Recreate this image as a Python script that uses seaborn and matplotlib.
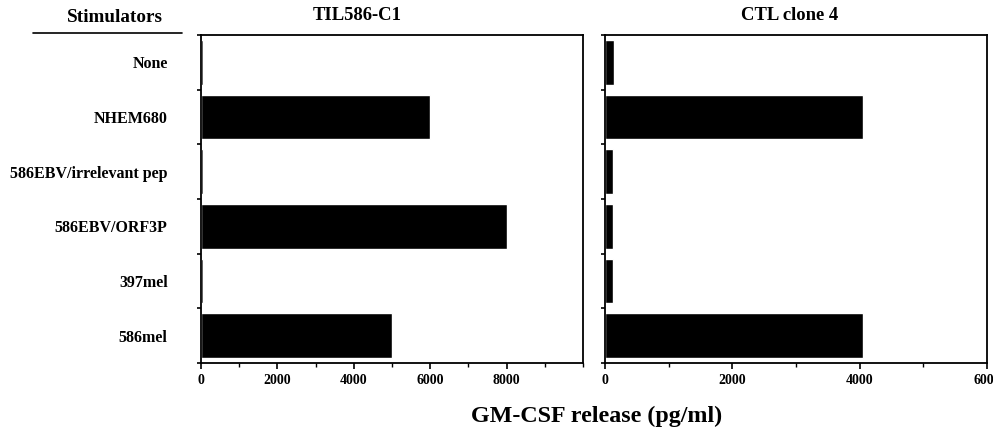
import matplotlib
matplotlib.use("Agg")
import matplotlib.pyplot as plt
import seaborn as sns
import pandas as pd
from matplotlib.lines import Line2D
from matplotlib.ticker import MultipleLocator, FixedLocator

# data (pg/ml)
stimulators = ["None", "NHEM680", "586EBV/irrelevant pep", "586EBV/ORF3P", "397mel", "586mel"]
til586_c1 = [60, 6000, 60, 8000, 60, 5000]
ctl_clone4 = [140, 4050, 130, 130, 120, 4050]

sns.set_style("white")
plt.rcParams["font.family"] = ["Liberation Serif", "DejaVu Serif"]
plt.rcParams["font.weight"] = "bold"
plt.rcParams["text.color"] = "black"
plt.rcParams["xtick.color"] = "black"
plt.rcParams["ytick.color"] = "black"

fig = plt.figure(figsize=(9.93, 4.36), dpi=100)
ax1 = fig.add_axes([0.2024, 0.1674, 0.3847, 0.7523])
ax2 = fig.add_axes([0.6093, 0.1674, 0.3847, 0.7523])

panels = [
    (ax1, til586_c1, 10000),
    (ax2, ctl_clone4, 6000),
]

for ax, vals, xmax in panels:
    df = pd.DataFrame({"stim": stimulators, "val": vals})
    sns.barplot(data=df, x="val", y="stim", orient="h", color="black",
                width=0.82, ax=ax, saturation=1)
    ax.set_xlim(0, xmax)
    ax.set_ylim(5.5, -0.5)
    ax.set_xlabel("")
    ax.set_ylabel("")
    for sp in ax.spines.values():
        sp.set_visible(True)
        sp.set_color("black")
        sp.set_linewidth(1.3)
    # x ticks
    ax.xaxis.set_minor_locator(MultipleLocator(1000))
    ax.tick_params(axis="x", which="major", direction="out", length=4, width=1.2,
                   bottom=True, labelsize=10, pad=4)
    ax.tick_params(axis="x", which="minor", direction="out", length=3, width=1.0, bottom=True)
    ticks = [t for t in range(0, xmax, 2000)] + ([xmax] if xmax == 6000 else [])
    ax.set_xticks(ticks)
    ax.set_xticklabels([str(t) for t in ticks])
    # y ticks: marks at category boundaries, labels at centers
    ax.yaxis.set_major_locator(FixedLocator([i - 0.5 for i in range(len(stimulators) + 1)]))
    ax.set_yticklabels([""] * (len(stimulators) + 1))
    ax.tick_params(axis="y", which="major", direction="out", length=3, width=1.2, left=True)
    ax.yaxis.set_minor_locator(FixedLocator(range(len(stimulators))))
    ax.tick_params(axis="y", which="minor", length=0, pad=24, labelsize=11.5)

ax1.set_yticks(range(len(stimulators)), minor=True)
ax1.set_yticklabels(stimulators, minor=True, fontweight="bold")
ax2.set_yticklabels([], minor=True)

fig.text(357 / 993, 1 - 16 / 436, "TIL586-C1", ha="center", va="center",
         fontsize=13.4, fontweight="bold")
fig.text(790 / 993, 1 - 16 / 436, "CTL clone 4", ha="center", va="center",
         fontsize=13.4, fontweight="bold")
fig.text(115 / 993, 1 - 18 / 436, "Stimulators", ha="center", va="center",
         fontsize=13.8, fontweight="bold")
fig.add_artist(Line2D([33 / 993, 182 / 993], [1 - 33 / 436, 1 - 33 / 436],
                      color="black", lw=1.2, transform=fig.transFigure))
fig.text(597 / 993, 1 - 416 / 436, "GM-CSF release (pg/ml)", ha="center", va="center",
         fontsize=17.3, fontweight="bold")

fig.savefig("out.png", dpi=100, facecolor="white")
